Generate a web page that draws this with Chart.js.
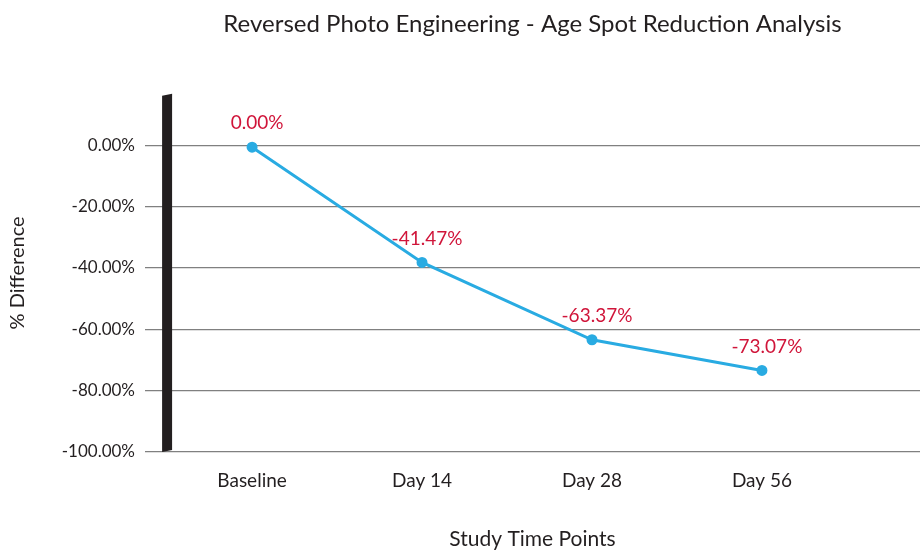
<!DOCTYPE html>
<html>
<head>
<meta charset="utf-8">
<script src="https://cdn.jsdelivr.net/npm/chart.js@4"></script>
<style>
  html, body { margin: 0; padding: 0; background: #fff; overflow: hidden; }
</style>
</head>
<body>
<canvas id="myChart" width="920" height="552"></canvas>
<script>
// Data
const timePoints = ['Baseline', 'Day 14', 'Day 28', 'Day 56'];
const pctDifference = [-0.6, -38.2, -63.4, -73.4];
const pointLabels = ['0.00%', '-41.47%', '-63.37%', '-73.07%'];
const yTickValues = [-100, -80, -60, -40, -20, 0];

const ink = '#231f20';
const fontFamily = 'Lato, "Noto Sans", sans-serif';

// thick dark bar standing in for the y axis line
const axisBar = {
    id: 'axisBar',
    beforeDatasetsDraw(chart) {
        const ctx = chart.ctx;
        const x = chart.scales.x.getPixelForValue(-0.5);
        const top = chart.chartArea.top;
        const bottom = chart.scales.y.getPixelForValue(-100);
        ctx.save();
        ctx.fillStyle = ink;
        ctx.beginPath();
        ctx.moveTo(x - 5, top + 2);
        ctx.lineTo(x + 5, top);
        ctx.lineTo(x + 5, bottom - 2);
        ctx.lineTo(x - 5, bottom);
        ctx.closePath();
        ctx.fill();
        ctx.restore();
    }
};

// red value labels above each point
const valueLabels = {
    id: 'valueLabels',
    afterDatasetsDraw(chart) {
        const ctx = chart.ctx;
        const meta = chart.getDatasetMeta(0);
        ctx.save();
        ctx.fillStyle = '#d0153a';
        ctx.font = '19px ' + fontFamily;
        ctx.textAlign = 'center';
        ctx.textBaseline = 'middle';
        meta.data.forEach(function (pt, i) {
            ctx.fillText(pointLabels[i], pt.x + 5, pt.y - 24);
        });
        ctx.restore();
    }
};

let myChart = document.getElementById('myChart').getContext('2d');

let chart_1 = new Chart(myChart,
{
    type: 'line',
    data:
    {
        datasets:
        [
            {
                label: '% Difference',
                data: pctDifference.map(function (v, i) { return { x: i, y: v }; }),
                borderColor: '#29abe2',
                backgroundColor: '#29abe2',
                borderWidth: 3,
                pointRadius: 4,
                pointHoverRadius: 4,
                tension: 0
            }
        ]
    },
    options:
    {
        responsive: false,
        animation: false,
        layout: { padding: 0, autoPadding: false },
        plugins:
        {
            legend: { display: false },
            tooltip: { enabled: false },
            title:
            {
                display: true,
                fullSize: false,
                text: 'Reversed Photo Engineering - Age Spot Reduction Analysis',
                color: ink,
                font: { family: fontFamily, size: 24, weight: 'normal' },
                padding: { top: 10, bottom: 55 }
            }
        },
        scales:
        {
            x:
            {
                type: 'linear',
                min: -0.63,
                max: 3.93,
                afterBuildTicks: function (axis) {
                    axis.ticks = timePoints.map(function (t, i) { return { value: i }; });
                },
                ticks:
                {
                    callback: function (value) { return timePoints[value]; },
                    color: ink,
                    font: { family: fontFamily, size: 19 },
                    padding: 17,
                    maxRotation: 0,
                    autoSkip: false
                },
                grid: { display: false, drawTicks: false },
                border: { display: false },
                title:
                {
                    display: true,
                    text: 'Study Time Points',
                    color: ink,
                    font: { family: fontFamily, size: 21 },
                    padding: { top: 18, bottom: 0 }
                }
            },
            y:
            {
                min: -100,
                max: 16.8,
                afterBuildTicks: function (axis) {
                    axis.ticks = yTickValues.map(function (v) { return { value: v }; });
                },
                afterFit: function (axis) { axis.width = 145; },
                ticks:
                {
                    callback: function (value) { return value.toFixed(2) + '%'; },
                    color: ink,
                    font: { family: fontFamily, size: 17 },
                    padding: 10
                },
                grid: { color: '#808080', lineWidth: 1.2, drawTicks: false },
                border: { display: false },
                title:
                {
                    display: true,
                    text: '% Difference',
                    color: ink,
                    font: { family: fontFamily, size: 20 },
                    padding: { top: 6, bottom: 10 }
                }
            }
        }
    },
    plugins: [axisBar, valueLabels]
});
</script>
</body>
</html>
